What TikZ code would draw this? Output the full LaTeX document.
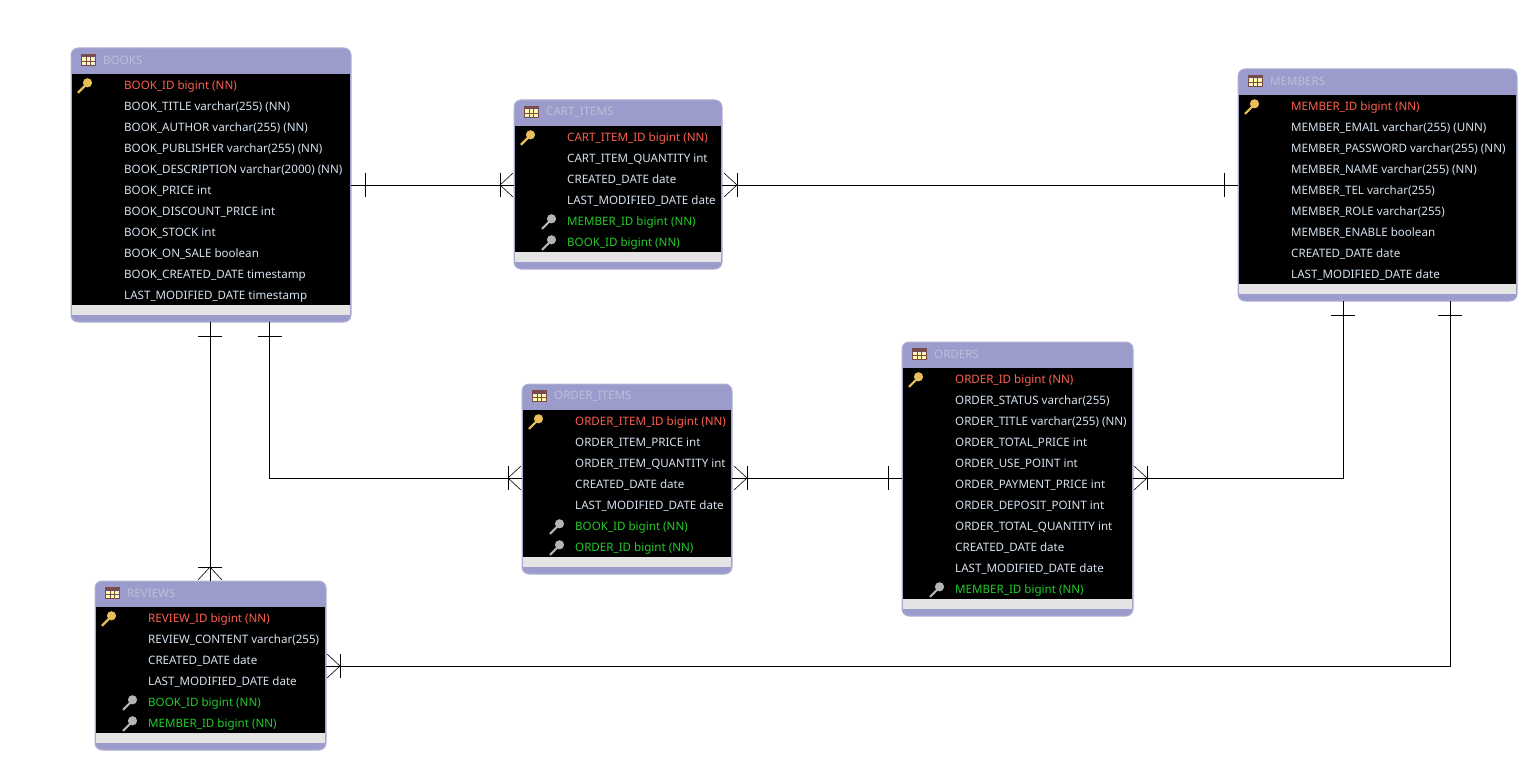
\documentclass[tikz,border=0pt]{standalone}
\usepackage{fontspec}
\setmainfont{Noto Sans}
\usepackage{xcolor}
\definecolor{framepurple}{HTML}{9C9CCC}
\definecolor{titlegrey}{HTML}{BEBED8}
\definecolor{footgrey}{HTML}{E4E4E4}
\definecolor{pkred}{HTML}{FF5F4F}
\definecolor{fkgreen}{HTML}{22CC2A}
\definecolor{colwhite}{HTML}{D6E2EE}
\definecolor{keygold}{HTML}{E8BE58}
\definecolor{keygrey}{HTML}{B4B4B4}

\tikzset{
  erdframe/.style={draw=framepurple!80!white,line width=1pt,fill=framepurple,rounded corners=7pt,
    inner sep=0pt,anchor=north west},
  erdtitle/.style={text=titlegrey,inner sep=0pt,anchor=west,font=\fontsize{11.6}{13}\selectfont},
  erdrow/.style={inner sep=0pt,anchor=west,text height=9pt,text depth=3pt,font=\fontsize{11.6}{13}\selectfont},
  P/.style={erdrow,text=pkred},
  C/.style={erdrow,text=colwhite},
  F/.style={erdrow,text=fkgreen},
  relline/.style={draw=black,line width=0.9pt},
  onebar/.pic={\draw[line width=0.9pt] (0,-12) -- (0,12);},
  crowfoot/.pic={
    \draw[line width=0.9pt] (0,-12) -- (0,12);
    \draw[line width=0.6pt] (13,-12) -- (0,0) -- (13,12);},
  pkkey/.pic={
    \draw[keygold,line width=2.2pt] (0,0) -- (8,-8);
    \fill[keygold] (9.5,-10) circle (4.6);},
  fkkey/.pic={
    \draw[keygrey,line width=2.2pt] (0,0) -- (8,-8);
    \fill[keygrey] (9.5,-10) circle (4.6);},
  tableicon/.pic={
    \fill[white!92!black] (0,0) rectangle (14,11);
    \fill[yellow!35!white] (1,4) rectangle (13,10);
    \fill[red!25!black!70!white] (0,0) rectangle (14,3);
    \draw[red!25!black!70!white,line width=0.6pt] (0,0) rectangle (14,11) (0,7) -- (14,7) (5,3) -- (5,11) (9.5,3) -- (9.5,11);}
}

% name, left, top, width, title, rows
\newcommand{\erdtable}[6]{
  \foreach \kind/\coltext [count=\n] in {#6} {\global\let\rowcount\n}
  \pgfmathsetmacro{\bodyh}{21*\rowcount}
  \node[erdframe,minimum width=#4 pt,minimum height=\bodyh pt + 43pt] (#1) at (#2-0.5,#3-0.5) {};
  \fill[black] (#2+1,#3+26) rectangle ++(#4-2.5,\bodyh);
  \fill[footgrey] (#2+1,#3+26+\bodyh) rectangle ++(#4-2.5,10);
  \pic at (#2+10,#3+6.5) {tableicon};
  \node[erdtitle] (#1-title) at (#2+32,#3+12.3) {#5};
  \foreach \kind/\coltext [count=\i] in {#6} {
    \pgfmathsetmacro{\rowy}{#3+26+21*\i-8.2}
    \node[\kind] (#1-\i) at (#2+53,\rowy) {\coltext};
    \ifx\kind\pkname \pic at (#2+7,\rowy+6) {pkkey}; \fi
    \ifx\kind\fkname \pic at (#2+28,\rowy+6) {fkkey}; \fi
  }
}
\def\pkname{P}
\def\fkname{F}

\begin{document}
\begin{tikzpicture}[x=1pt,y=-1pt]
  \useasboundingbox (0,0) rectangle (1529,762);

  \erdtable{books}{71}{48}{280}{BOOKS}{
    P/BOOK\_ID bigint (NN), C/BOOK\_TITLE varchar(255) (NN), C/BOOK\_AUTHOR varchar(255) (NN),
    C/BOOK\_PUBLISHER varchar(255) (NN), C/BOOK\_DESCRIPTION varchar(2000) (NN), C/BOOK\_PRICE int,
    C/BOOK\_DISCOUNT\_PRICE int, C/BOOK\_STOCK int, C/BOOK\_ON\_SALE boolean,
    C/BOOK\_CREATED\_DATE timestamp, C/LAST\_MODIFIED\_DATE timestamp}
  \erdtable{cart}{514}{100}{208}{CART\_ITEMS}{
    P/CART\_ITEM\_ID bigint (NN), C/CART\_ITEM\_QUANTITY int, C/CREATED\_DATE date,
    C/LAST\_MODIFIED\_DATE date, F/MEMBER\_ID bigint (NN), F/BOOK\_ID bigint (NN)}
  \erdtable{members}{1238}{69}{279}{MEMBERS}{
    P/MEMBER\_ID bigint (NN), C/MEMBER\_EMAIL varchar(255) (UNN), C/MEMBER\_PASSWORD varchar(255) (NN),
    C/MEMBER\_NAME varchar(255) (NN), C/MEMBER\_TEL varchar(255), C/MEMBER\_ROLE varchar(255),
    C/MEMBER\_ENABLE boolean, C/CREATED\_DATE date, C/LAST\_MODIFIED\_DATE date}
  \erdtable{orders}{902}{342}{231}{ORDERS}{
    P/ORDER\_ID bigint (NN), C/ORDER\_STATUS varchar(255), C/ORDER\_TITLE varchar(255) (NN),
    C/ORDER\_TOTAL\_PRICE int, C/ORDER\_USE\_POINT int, C/ORDER\_PAYMENT\_PRICE int,
    C/ORDER\_DEPOSIT\_POINT int, C/ORDER\_TOTAL\_QUANTITY int, C/CREATED\_DATE date,
    C/LAST\_MODIFIED\_DATE date, F/MEMBER\_ID bigint (NN)}
  \erdtable{oitems}{522}{384}{210}{ORDER\_ITEMS}{
    P/ORDER\_ITEM\_ID bigint (NN), C/ORDER\_ITEM\_PRICE int, C/ORDER\_ITEM\_QUANTITY int,
    C/CREATED\_DATE date, C/LAST\_MODIFIED\_DATE date, F/BOOK\_ID bigint (NN), F/ORDER\_ID bigint (NN)}
  \erdtable{reviews}{95}{581}{231}{REVIEWS}{
    P/REVIEW\_ID bigint (NN), C/REVIEW\_CONTENT varchar(255), C/CREATED\_DATE date,
    C/LAST\_MODIFIED\_DATE date, F/BOOK\_ID bigint (NN), F/MEMBER\_ID bigint (NN)}

  % relation lines
  \coordinate (bcA) at (351,185);
  \coordinate (bcB) at (514,185);
  \coordinate (cmA) at (722,185);
  \coordinate (cmB) at (1238,185);
  \coordinate (brA) at (210,322);
  \coordinate (brB) at (210,581);
  \coordinate (boA) at (269.5,322);
  \coordinate (boC) at (269.5,478);
  \coordinate (boB) at (522,478);
  \coordinate (ooA) at (732,478);
  \coordinate (ooB) at (902,478);
  \coordinate (omA) at (1133,478);
  \coordinate (omC) at (1343,478);
  \coordinate (omB) at (1343,301);
  \coordinate (rmA) at (326,666);
  \coordinate (rmC) at (1450,666);
  \coordinate (rmB) at (1450,301);

  \draw[relline] (bcA) -- (bcB);
  \draw[relline] (cmA) -- (cmB);
  \draw[relline] (brA) -- (brB);
  \draw[relline] (boA) -- (boC) -- (boB);
  \draw[relline] (ooA) -- (ooB);
  \draw[relline] (omA) -- (omC) -- (omB);
  \draw[relline] (rmA) -- (rmC) -- (rmB);

  \pic at (365,185) {onebar};
  \pic at (500,185) {crowfoot};
  \pic[xscale=-1] at (737,185) {crowfoot};
  \pic at (1224,185) {onebar};
  \pic[rotate=90] at (210,336) {onebar};
  \pic[rotate=-90,yscale=-1] at (210,567) {crowfoot};
  \pic[rotate=90] at (269.5,336) {onebar};
  \pic at (508,478) {crowfoot};
  \pic[xscale=-1] at (747,478) {crowfoot};
  \pic at (888,478) {onebar};
  \pic[xscale=-1] at (1147,478) {crowfoot};
  \pic[rotate=90] at (1343,315) {onebar};
  \pic[rotate=90] at (1450,315) {onebar};
  \pic[xscale=-1] at (340,666) {crowfoot};
\end{tikzpicture}
\end{document}
